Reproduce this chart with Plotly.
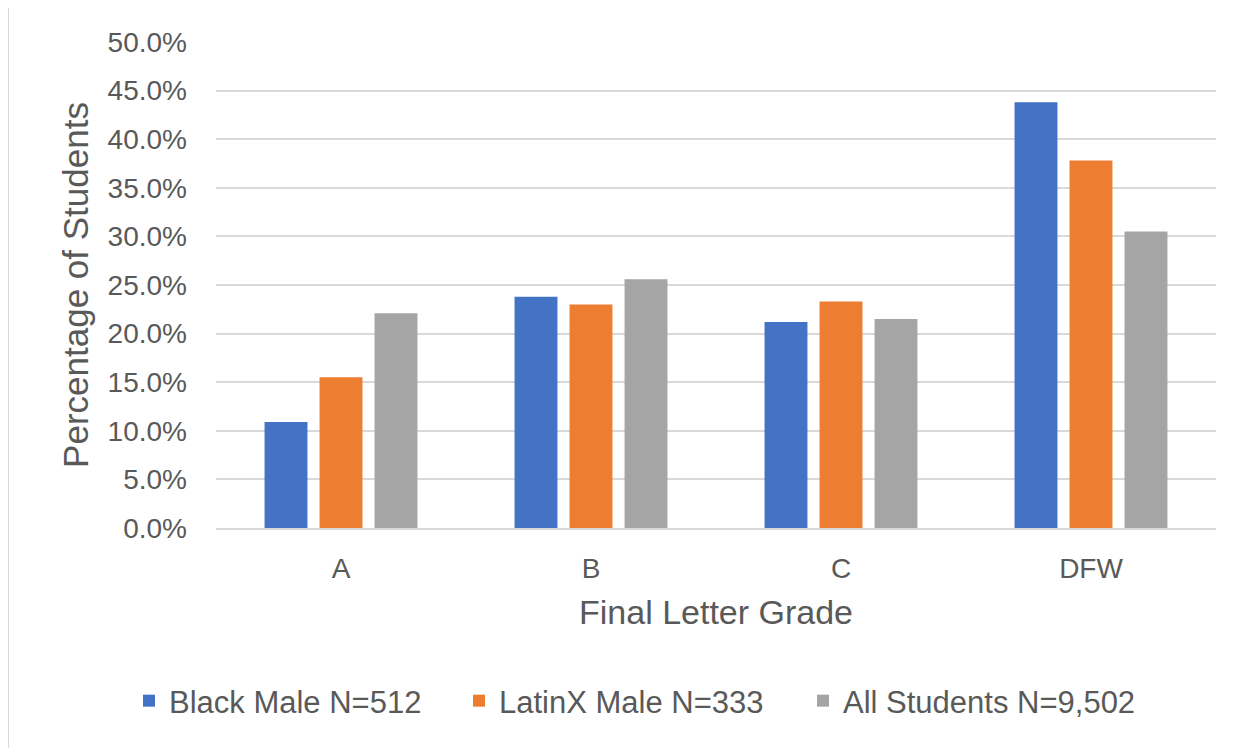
import plotly.graph_objects as go

grades = ["A", "B", "C", "DFW"]
black_male = [0.109, 0.238, 0.212, 0.438]
latinx_male = [0.155, 0.230, 0.233, 0.378]
all_students = [0.221, 0.256, 0.215, 0.305]
series_names = ["Black Male N=512", "LatinX Male N=333", "All Students N=9,502"]
colors = ["#4472C4", "#ED7D31", "#A5A5A5"]
y_ticks = [0, 0.05, 0.10, 0.15, 0.20, 0.25, 0.30, 0.35, 0.40, 0.45, 0.50]

FONT = "Liberation Sans, Arial, sans-serif"
TXT = "#595959"
GRID = "#D9D9D9"

legend_ids = ["legend", "legend2", "legend3"]
legend_x = [-0.087, 0.243, 0.587]

fig = go.Figure()
for name, vals, col, lid in zip(series_names, [black_male, latinx_male, all_students], colors, legend_ids):
    fig.add_trace(go.Bar(x=grades, y=vals, name=name, legend=lid,
                         marker=dict(color=col, line=dict(width=0))))

legend_common = dict(orientation="h", xanchor="left", y=-0.356, yanchor="middle",
                     font=dict(family=FONT, size=31, color=TXT), itemwidth=30,
                     bgcolor="rgba(0,0,0,0)")

fig.update_layout(
    width=1240, height=740,
    barmode="group", bargap=0.34, bargroupgap=0.22,
    paper_bgcolor="white", plot_bgcolor="white",
    margin=dict(l=208, r=32, t=34, b=220, autoexpand=False),
    font=dict(family=FONT, color=TXT, size=28),
    showlegend=True,
    legend=dict(x=legend_x[0], **legend_common),
    legend2=dict(x=legend_x[1], **legend_common),
    legend3=dict(x=legend_x[2], **legend_common),
    xaxis=dict(
        showgrid=False, showline=True, linecolor=GRID, linewidth=2,
        ticks="", tickfont=dict(size=28, color=TXT), ticklabelstandoff=14,
        title=dict(text="Final Letter Grade", font=dict(size=34, color=TXT), standoff=18),
    ),
    yaxis=dict(
        range=[0, 0.5], tickvals=y_ticks, tickformat=".1%",
        showgrid=True, gridcolor=GRID, gridwidth=2, zeroline=False,
        showline=False, ticks="", tickfont=dict(size=28, color=TXT), ticklabelstandoff=28,
        title=dict(text="Percentage of Students", font=dict(size=35, color=TXT), standoff=8),
    ),
    shapes=[
        dict(type="line", xref="paper", yref="paper", x0=-0.208, x1=-0.208, y0=-0.5, y1=1.078,
             line=dict(color=GRID, width=2)),
        dict(type="line", xref="paper", yref="paper", x0=-0.208, x1=1.1, y0=1.078, y1=1.078,
             line=dict(color=GRID, width=2)),
    ],
)

fig.write_html("out.html")
